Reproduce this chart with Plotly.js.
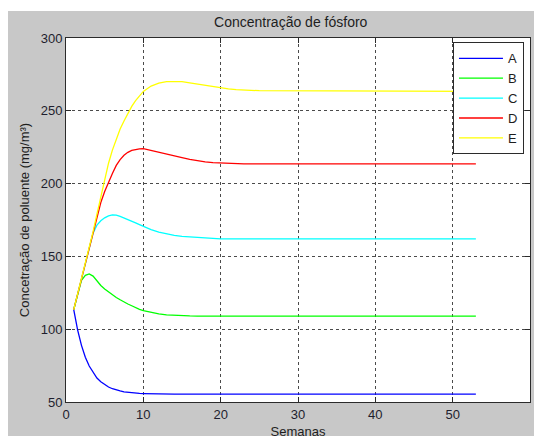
<!DOCTYPE html>
<html>
<head>
<meta charset="utf-8">
<script src="https://cdn.plot.ly/plotly-3.0.1.min.js"></script>
<style>
  html, body { margin: 0; padding: 0; background: #ffffff; overflow: hidden; }
  #chart { position: absolute; left: 8px; top: 11px; width: 526px; height: 436px; }
</style>
</head>
<body>
<div id="chart"></div>
<script>
// Semanas (weeks)
const weeks = [1, 1.5, 2, 2.5, 3, 3.5, 4, 4.5, 5, 5.5, 6, 6.5, 7, 7.5, 8, 8.5, 9, 9.5, 10,
  11, 12, 13, 14, 15, 16, 17, 18, 19, 20, 21, 22, 23, 24, 25, 53];

const seriesNames = ["A", "B", "C", "D", "E"];

const valuesA = [113.4, 99.5, 88.9, 80.8, 74.7, 70.1, 66.5, 63.9, 61.8, 60.3, 59.1, 58.2, 57.6, 57.0, 56.6, 56.3, 56.1, 55.9, 55.8,
  55.6, 55.5, 55.4, 55.4, 55.4, 55.4, 55.4, 55.4, 55.4, 55.4, 55.4, 55.4, 55.4, 55.4, 55.4, 55.4];

const valuesB = [113.4, 123.5, 133.5, 137.0, 138.0, 136.5, 133.0, 130.0, 127.6, 125.5, 123.6, 121.8, 120.2, 118.6, 117.3, 116.1, 114.8, 113.6, 112.8,
  111.5, 110.5, 109.8, 109.4, 109.2, 109.1, 109.0, 109.0, 109.0, 109.0, 109.0, 109.0, 109.0, 109.0, 109.0, 109.0];

const valuesC = [113.4, 124.0, 134.5, 146.0, 157.0, 166.0, 171.5, 174.5, 176.5, 177.8, 178.5, 178.3, 177.5, 176.5, 175.3, 174.2, 173.0, 171.8, 170.6,
  168.4, 166.6, 165.3, 164.4, 163.8, 163.4, 163.0, 162.6, 162.3, 162.1, 162.0, 162.0, 162.0, 162.0, 162.0, 162.0];

const valuesD = [113.4, 124.0, 134.5, 146.0, 156.0, 167.0, 178.5, 187.0, 194.5, 201.0, 207.0, 212.5, 216.5, 219.5, 221.5, 222.8, 223.5, 223.9, 224.0,
  222.7, 221.2, 220.0, 219.0, 217.8, 216.6, 215.6, 214.9, 214.4, 214.1, 213.8, 213.6, 213.5, 213.5, 213.5, 213.5];

const valuesE = [113.4, 124.0, 134.5, 145.0, 156.0, 167.0, 179.0, 191.0, 203.0, 214.0, 223.0, 231.0, 237.5, 243.0, 248.5, 253.0, 257.0, 260.5, 263.3,
  267.0, 269.0, 270.0, 270.2, 270.0, 269.2, 268.3, 267.3, 266.4, 265.7, 265.1, 264.6, 264.2, 264.0, 263.8, 263.3];

const seriesValues = [valuesA, valuesB, valuesC, valuesD, valuesE];
const seriesColors = ["#0000ff", "#00ff00", "#00ffff", "#ff0000", "#ffff00"];

const xTicks = [0, 10, 20, 30, 40, 50, 60];
const yTicks = [50, 100, 150, 200, 250, 300];

const traces = seriesNames.map((name, i) => ({
  type: "scatter",
  mode: "lines",
  name: name,
  x: weeks,
  y: seriesValues[i],
  line: { color: seriesColors[i], width: 1.3 },
  hoverinfo: "skip"
}));

const fontFam = "Liberation Sans, Arial, Helvetica, sans-serif";

const axisCommon = {
  showline: true,
  linecolor: "#2b2b2b",
  linewidth: 1,
  mirror: "ticks",
  ticks: "inside",
  ticklen: 5,
  tickcolor: "#2b2b2b",
  showgrid: true,
  gridcolor: "#4a4a4a",
  gridwidth: 1,
  griddash: "dot",
  zeroline: false,
  tickfont: { family: fontFam, size: 13, color: "#1e1e2e" }
};

const layout = {
  width: 526,
  height: 436,
  paper_bgcolor: "#c8c8c8",
  plot_bgcolor: "#ffffff",
  margin: { l: 58, r: 4, t: 27, b: 45 },
  title: {
    text: "Concentração de fósforo",
    font: { family: fontFam, size: 14, color: "#1e1e1e" },
    xref: "container", x: 0.5375, xanchor: "center",
    yref: "container", y: 0.9748, yanchor: "middle"
  },
  xaxis: Object.assign({}, axisCommon, {
    range: [0, 60],
    tickmode: "array",
    tickvals: xTicks,
    ticktext: xTicks.map(String),
    title: { text: "Semanas", font: { family: fontFam, size: 13, color: "#1e1e1e" }, standoff: 6 }
  }),
  yaxis: Object.assign({}, axisCommon, {
    range: [50, 300],
    tickmode: "array",
    tickvals: yTicks,
    ticktext: yTicks.map(String),
    title: { text: "Concetração de poluente (mg/m³)", font: { family: fontFam, size: 13, color: "#1e1e1e" }, standoff: 8 }
  }),
  legend: {
    x: 0.987, xanchor: "right",
    y: 0.988, yanchor: "top",
    bgcolor: "#ffffff",
    bordercolor: "#2b2b2b",
    borderwidth: 1,
    itemwidth: 44,
    tracegroupgap: 0,
    font: { family: fontFam, size: 13, color: "#1e1e1e" }
  },
  showlegend: true
};

Plotly.newPlot("chart", traces, layout, { displayModeBar: false, staticPlot: true });
</script>
</body>
</html>
